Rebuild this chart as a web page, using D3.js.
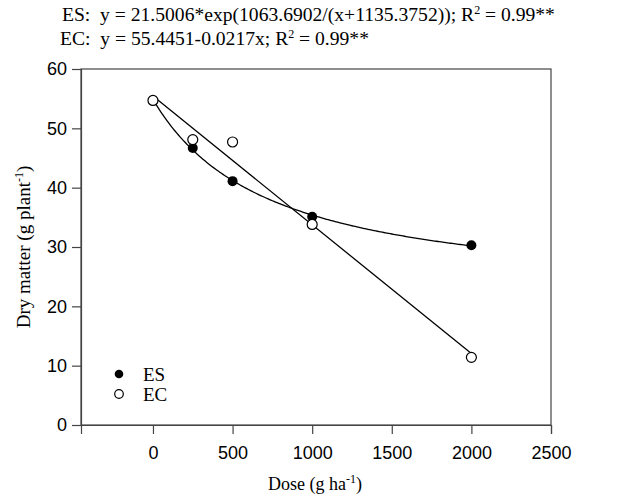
<!DOCTYPE html>
<html>
<head>
<meta charset="utf-8">
<script src="https://cdn.jsdelivr.net/npm/d3@7"></script>
<style>
  body { margin: 0; background: #fff; }
  svg text { fill: #000; }
</style>
</head>
<body>
<svg id="chart" width="627" height="502"></svg>
<script>
// doses and observed dry matter
const doses = [0, 250, 500, 1000, 2000];
const esValues = [54.7, 46.7, 41.1, 35.1, 30.3];
const ecValues = [54.7, 48.1, 47.7, 33.8, 11.4];

// fitted equations printed above the chart
const esCoef = [21.5006, 1063.6902, 1135.3752];
const ecCoef = [55.4451, -0.0217];

const xTicks = [0, 500, 1000, 1500, 2000, 2500];
const yTicks = [0, 10, 20, 30, 40, 50, 60];

const width = 627;
const height = 502;
const mLeft = 81, mRight = 551, mTop = 69, mBottom = 425;

const svg = d3.select('#chart');

const x = d3.scaleLinear().domain([-452, 2500]).range([mLeft, mRight]);
const y = d3.scaleLinear().domain([0, 60]).range([mBottom, mTop]);

// frame
svg.append('rect')
  .attr('x', mLeft).attr('y', mTop)
  .attr('width', mRight - mLeft).attr('height', mBottom - mTop)
  .attr('fill', 'none').attr('stroke', '#444').attr('stroke-width', 1.2);

const xAxis = svg.append('g')
  .attr('transform', `translate(0,${mBottom})`)
  .call(d3.axisBottom(x).tickValues(xTicks).tickFormat(d3.format('d')).tickSize(9).tickPadding(12));
const yAxis = svg.append('g')
  .attr('transform', `translate(${mLeft},0)`)
  .call(d3.axisLeft(y).tickValues(yTicks).tickFormat(d3.format('d')).tickSize(9).tickPadding(5));

[xAxis, yAxis].forEach(g => {
  g.select('.domain').attr('stroke', '#444').attr('stroke-width', 1.2);
  g.selectAll('.tick line').attr('stroke', '#444').attr('stroke-width', 1.2);
  g.selectAll('.tick text')
    .style('font-family', 'Arial, "Liberation Sans", sans-serif')
    .style('font-size', '18px')
    .attr('fill', '#000');
});

// fitted curves, sampled from the printed equations
const xs = d3.range(0, 2001, 10);
const esFit = xs.map(d => [d, esCoef[0] * Math.exp(esCoef[1] / (d + esCoef[2]))]);
const ecFit = [0, 2000].map(d => [d, ecCoef[0] + ecCoef[1] * d]);

const line = d3.line().x(d => x(d[0])).y(d => y(d[1]));

svg.append('path').datum(esFit).attr('d', line)
  .attr('fill', 'none').attr('stroke', '#000').attr('stroke-width', 1.3);
svg.append('path').datum(ecFit).attr('d', line)
  .attr('fill', 'none').attr('stroke', '#000').attr('stroke-width', 1.3);

// points
svg.selectAll('circle.es')
  .data(doses.map((d, i) => [d, esValues[i]]))
  .enter().append('circle')
  .classed('es', true)
  .attr('cx', d => x(d[0])).attr('cy', d => y(d[1]))
  .attr('r', 5).attr('fill', '#000');

svg.selectAll('circle.ec')
  .data(doses.map((d, i) => [d, ecValues[i]]))
  .enter().append('circle')
  .classed('ec', true)
  .attr('cx', d => x(d[0])).attr('cy', d => y(d[1]))
  .attr('r', 5).attr('fill', '#fff')
  .attr('stroke', '#000').attr('stroke-width', 1.2);

// legend
const serif = '"Times New Roman", "Liberation Serif", serif';
const legend = svg.append('g').style('font-family', serif).style('font-size', '19px');
legend.append('circle').attr('cx', 119).attr('cy', 374).attr('r', 4.3).attr('fill', '#000');
legend.append('text').attr('x', 143).attr('y', 381).text('ES');
legend.append('circle').attr('cx', 119).attr('cy', 394).attr('r', 4.3)
  .attr('fill', '#fff').attr('stroke', '#000').attr('stroke-width', 1.2);
legend.append('text').attr('x', 143).attr('y', 401).text('EC');

// equations
const eq1 = svg.append('text').attr('x', 62).attr('y', 21)
  .style('font-family', serif).style('font-size', '19.6px');
eq1.append('tspan').text('ES:\u00a0 y = 21.5006*exp(1063.6902/(x+1135.3752)); R');
eq1.append('tspan').attr('dy', -7).style('font-size', '12px').text('2');
eq1.append('tspan').attr('dy', 7).text(' = 0.99**');

const eq2 = svg.append('text').attr('x', 60).attr('y', 45)
  .style('font-family', serif).style('font-size', '19.6px');
eq2.append('tspan').text('EC:\u00a0 y = 55.4451-0.0217x; R');
eq2.append('tspan').attr('dy', -7).style('font-size', '12px').text('2');
eq2.append('tspan').attr('dy', 7).text(' = 0.99**');

// axis titles
const xt = svg.append('text').attr('x', 315).attr('y', 490).attr('text-anchor', 'middle')
  .style('font-family', serif).style('font-size', '18px');
xt.append('tspan').text('Dose (g ha');
xt.append('tspan').attr('dy', -7).style('font-size', '12px').text('-1');
xt.append('tspan').attr('dy', 7).text(')');

const yt = svg.append('text')
  .attr('transform', 'translate(30,247) rotate(-90)')
  .attr('text-anchor', 'middle')
  .style('font-family', serif).style('font-size', '19px');
yt.append('tspan').text('Dry matter (g plant');
yt.append('tspan').attr('dy', -7).style('font-size', '12px').text('-1');
yt.append('tspan').attr('dy', 7).text(')');
</script>
</body>
</html>
